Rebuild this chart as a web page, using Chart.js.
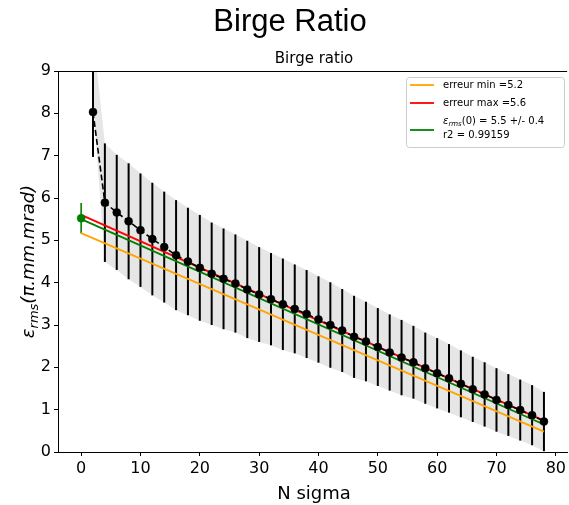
<!DOCTYPE html>
<html>
<head>
<meta charset="utf-8">
<script src="https://cdn.jsdelivr.net/npm/chart.js@4/dist/chart.umd.min.js"></script>
<style>
  html, body { margin: 0; padding: 0; background: #fff; }
  #wrap { width: 569px; height: 505px; }
</style>
</head>
<body>
<div id="wrap"><canvas id="c" width="569" height="505"></canvas></div>
<script>
// data
const nSigma = [2, 4, 6, 8, 10, 12, 14, 16, 18, 20, 22, 24, 26, 28, 30, 32, 34, 36, 38, 40,
                42, 44, 46, 48, 50, 52, 54, 56, 58, 60, 62, 64, 66, 68, 70, 72, 74, 76, 78];
const birge = [8.03, 5.89, 5.66, 5.45, 5.24, 5.03, 4.84, 4.65, 4.50, 4.35, 4.21, 4.09, 3.98, 3.84,
               3.72, 3.61, 3.49, 3.38, 3.26, 3.13, 3.00, 2.87, 2.72, 2.61, 2.48, 2.35, 2.23, 2.12,
               1.98, 1.86, 1.74, 1.61, 1.48, 1.36, 1.23, 1.11, 0.99, 0.87, 0.72];
const birgeErr = [1.06, 1.40, 1.36, 1.37, 1.34, 1.33, 1.31, 1.30, 1.27, 1.25, 1.21, 1.19, 1.16, 1.15,
                  1.12, 1.09, 1.08, 1.05, 1.04, 1.02, 1.01, 0.98, 0.97, 0.94, 0.92, 0.90, 0.89, 0.86,
                  0.84, 0.83, 0.81, 0.79, 0.77, 0.76, 0.75, 0.73, 0.72, 0.71, 0.70];
// the grey band at the first point does not follow the error bar
const bandFirstTop = 9.9;
const bandFirstBottom = 8.3;

const fitX = [0, 78];
const errMinLine = [5.17, 0.48];
const errMaxLine = [5.60, 0.74];
const fitLine = [5.50, 0.65];
const eps0 = 5.52;
const eps0Err = 0.36;

const xTicks = [0, 10, 20, 30, 40, 50, 60, 70, 80];
const yTicks = [0, 1, 2, 3, 4, 5, 6, 7, 8, 9];
const legendLabels = ['erreur min =5.2', 'erreur max =5.6', '(0) = 5.5 +/- 0.4', 'r2 = 0.99159'];

const ORANGE = '#ffa500', RED = '#ff0000', GREEN = '#008000';
const FONT = '"DejaVu Sans", sans-serif';

const bandTop = birge.map((v, i) => i === 0 ? bandFirstTop : v + birgeErr[i]);
const bandBottom = birge.map((v, i) => i === 0 ? bandFirstBottom : v - birgeErr[i]);
const pts = (xs, ys) => xs.map((x, i) => ({ x: x, y: ys[i] }));

const errorBars = {
  id: 'errorBars',
  afterDatasetDraw(chart, args) {
    if (args.index !== 0) return;
    const { ctx, chartArea: a, scales: { x, y } } = chart;
    ctx.save();
    ctx.beginPath();
    ctx.rect(a.left, a.top, a.right - a.left, a.bottom - a.top);
    ctx.clip();
    ctx.strokeStyle = '#000';
    ctx.lineWidth = 2;
    nSigma.forEach((n, i) => {
      const px = x.getPixelForValue(n);
      ctx.beginPath();
      ctx.moveTo(px, y.getPixelForValue(birge[i] - birgeErr[i]));
      ctx.lineTo(px, y.getPixelForValue(birge[i] + birgeErr[i]));
      ctx.stroke();
    });
    ctx.strokeStyle = GREEN;
    ctx.lineWidth = 1.6;
    const gx = x.getPixelForValue(0);
    ctx.beginPath();
    ctx.moveTo(gx, y.getPixelForValue(eps0 - eps0Err));
    ctx.lineTo(gx, y.getPixelForValue(eps0 + eps0Err));
    ctx.stroke();
    ctx.restore();
  }
};

// eps + subscript rms, returns width
function drawEps(ctx, x, y, size, sub, dry) {
  ctx.font = 'italic ' + size + 'px ' + FONT;
  const w1 = ctx.measureText('ε').width;
  if (!dry) ctx.fillText('ε', x, y);
  ctx.font = 'italic ' + Math.round(size * 0.7) + 'px ' + FONT;
  const w2 = ctx.measureText('rms').width;
  if (!dry) ctx.fillText('rms', x + w1, y + sub);
  return w1 + w2;
}

const decorations = {
  id: 'decorations',
  afterDraw(chart) {
    const { ctx, chartArea: a } = chart;
    ctx.save();
    ctx.fillStyle = '#000';
    // top spine
    ctx.strokeStyle = '#000';
    ctx.lineWidth = 1;
    ctx.beginPath();
    ctx.moveTo(a.left, a.top + 0.5);
    ctx.lineTo(a.right, a.top + 0.5);
    ctx.stroke();

    ctx.textAlign = 'center';
    ctx.textBaseline = 'alphabetic';
    ctx.font = '31px "Liberation Sans", Arial, sans-serif';
    ctx.fillText('Birge Ratio', 290, 31);
    ctx.font = '15px ' + FONT;
    ctx.fillText('Birge ratio', (a.left + 570) / 2, 63);
    ctx.font = '18px ' + FONT;
    ctx.fillText('N sigma', (a.left + 570) / 2, 499);

    // y title
    ctx.save();
    ctx.translate(34, (a.top + a.bottom) / 2);
    ctx.rotate(-Math.PI / 2);
    ctx.textAlign = 'left';
    const wEps = drawEps(ctx, 0, 0, 18, 4, true);
    ctx.font = 'italic 18px ' + FONT;
    const total = wEps + ctx.measureText('(π.mm.mrad)').width;
    const x0 = -total / 2;
    drawEps(ctx, x0, 0, 18, 4, false);
    ctx.font = 'italic 18px ' + FONT;
    ctx.fillText('(π.mm.mrad)', x0 + wEps, 0);
    ctx.restore();

    // legend
    const lx = 406, ly = 77, lw = 158, lh = 70;
    ctx.fillStyle = 'rgba(255,255,255,0.8)';
    ctx.strokeStyle = '#cccccc';
    ctx.lineWidth = 1;
    ctx.beginPath();
    ctx.roundRect(lx + 0.5, ly + 0.5, lw, lh, 3);
    ctx.fill();
    ctx.stroke();
    const handles = [[ORANGE, 85], [RED, 103], [GREEN, 130]];
    ctx.lineWidth = 1.8;
    handles.forEach(([c, hy]) => {
      ctx.strokeStyle = c;
      ctx.beginPath();
      ctx.moveTo(410, hy);
      ctx.lineTo(434, hy);
      ctx.stroke();
    });
    ctx.fillStyle = '#000';
    ctx.textAlign = 'left';
    ctx.textBaseline = 'middle';
    ctx.font = '10px ' + FONT;
    ctx.fillText(legendLabels[0], 443, 85);
    ctx.fillText(legendLabels[1], 443, 103);
    const we = drawEps(ctx, 443, 121.5, 10, 2.5, false);
    ctx.font = '10px ' + FONT;
    ctx.fillText(legendLabels[2], 443 + we, 121.5);
    ctx.fillText(legendLabels[3], 443, 135.5);
    ctx.restore();
  }
};

const tickFont = { family: FONT, size: 16 };

new Chart(document.getElementById('c'), {
  type: 'line',
  data: {
    datasets: [
      { data: pts(nSigma, bandTop), fill: '+1', backgroundColor: '#e6e6e6', borderColor: 'transparent',
        borderWidth: 0, pointRadius: 0, order: 10 },
      { data: pts(nSigma, bandBottom), fill: false, borderColor: 'transparent', borderWidth: 0,
        pointRadius: 0, order: 11 },
      { data: pts(fitX, errMinLine), borderColor: ORANGE, borderWidth: 1.8, pointRadius: 0, fill: false, order: 5 },
      { data: pts(fitX, errMaxLine), borderColor: RED, borderWidth: 1.8, pointRadius: 0, fill: false, order: 4 },
      { data: pts(fitX, fitLine), borderColor: GREEN, borderWidth: 1.8, pointRadius: 0, fill: false, order: 3 },
      { data: pts(nSigma, birge), borderColor: '#000', borderWidth: 1.6, borderDash: [6, 3],
        pointRadius: 4, pointBorderWidth: 0.5, pointBackgroundColor: '#000', pointBorderColor: '#000',
        fill: false, order: 1 },
      { data: [{ x: 0, y: eps0 }], showLine: false, pointRadius: 4, pointBorderWidth: 0.5,
        pointBackgroundColor: GREEN, pointBorderColor: GREEN, order: 0 }
    ]
  },
  options: {
    responsive: false,
    animation: false,
    events: [],
    layout: { autoPadding: false, padding: { top: 71, left: 0, right: 0, bottom: 0 } },
    plugins: { legend: { display: false }, tooltip: { enabled: false }, title: { display: false } },
    scales: {
      x: {
        type: 'linear', min: -3.9, max: 81.9,
        afterBuildTicks: s => { s.ticks = xTicks.map(v => ({ value: v })); },
        afterFit: s => { s.height = 53; },
        grid: { drawOnChartArea: false, tickLength: 4, tickColor: '#000' },
        border: { color: '#000', width: 1 },
        ticks: { font: tickFont, color: '#000', padding: 3, maxRotation: 0 }
      },
      y: {
        type: 'linear', min: 0, max: 9,
        afterBuildTicks: s => { s.ticks = yTicks.map(v => ({ value: v })); },
        afterFit: s => { s.width = 58; },
        grid: { drawOnChartArea: false, tickLength: 4, tickColor: '#000' },
        border: { color: '#000', width: 1 },
        ticks: { font: tickFont, color: '#000', padding: 3 }
      }
    }
  },
  plugins: [errorBars, decorations]
});
</script>
</body>
</html>
